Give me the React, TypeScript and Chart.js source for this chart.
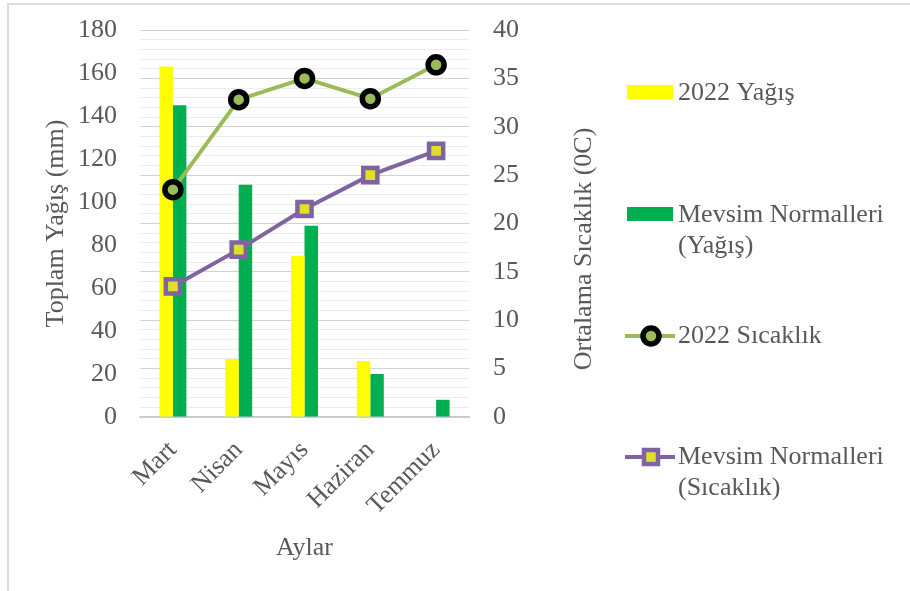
import React, { useEffect, useRef } from "react";
import { Chart, registerables } from "chart.js";

Chart.register(...registerables);

const months = ["Mart", "Nisan", "Mayıs", "Haziran", "Temmuz"];
const rain2022 = [163, 27, 75, 26, 0];
const rainNormal = [145, 108, 89, 20, 8];
const temp2022 = [23.5, 32.8, 35.0, 32.9, 36.4];
const tempNormal = [13.5, 17.3, 21.5, 25.0, 27.5];

const leftTitle = "Toplam Yağış (mm)";
const rightTitle = "Ortalama Sıcaklık (0C)";
const xTitle = "Aylar";
const legendLabels = [
  ["2022 Yağış"],
  ["Mevsim Normalleri", "(Yağış)"],
  ["2022 Sıcaklık"],
  ["Mevsim Normalleri", "(Sıcaklık)"],
];

const FONT = "Liberation Serif";
const TXT = "#595959";
const YELLOW = "#ffff00";
const GREEN = "#00b050";
const LGREEN = "#9bbb59";
const PURPLE = "#8064a2";
const SQFILL = "#e0e02a";
const CLEAR = "rgba(0,0,0,0)";

const overlayPlugin = {
  id: "overlay",
  afterDraw(chart: any) {
    const ctx = chart.ctx;
    ctx.save();
    ctx.font = `26px "${FONT}"`;
    ctx.fillStyle = TXT;
    // right axis title (reads bottom-to-top)
    ctx.save();
    ctx.translate(584, 249);
    ctx.rotate(-Math.PI / 2);
    ctx.textAlign = "center";
    ctx.textBaseline = "middle";
    ctx.fillText(rightTitle, 0, 0);
    ctx.restore();

    // legend
    ctx.textAlign = "left";
    ctx.textBaseline = "middle";
    const tx = 678;
    ctx.fillStyle = YELLOW;
    ctx.fillRect(627, 85, 46, 14);
    ctx.fillStyle = TXT;
    ctx.fillText(legendLabels[0][0], tx, 93);

    ctx.fillStyle = GREEN;
    ctx.fillRect(627, 207, 46, 14);
    ctx.fillStyle = TXT;
    ctx.fillText(legendLabels[1][0], tx, 215);
    ctx.fillText(legendLabels[1][1], tx, 246);

    ctx.strokeStyle = LGREEN;
    ctx.lineWidth = 4;
    ctx.beginPath();
    ctx.moveTo(625, 336);
    ctx.lineTo(675, 336);
    ctx.stroke();
    ctx.beginPath();
    ctx.arc(651, 336, 8, 0, Math.PI * 2);
    ctx.fillStyle = LGREEN;
    ctx.fill();
    ctx.lineWidth = 5.5;
    ctx.strokeStyle = "#000";
    ctx.stroke();
    ctx.fillStyle = TXT;
    ctx.fillText(legendLabels[2][0], tx, 336);

    ctx.strokeStyle = PURPLE;
    ctx.lineWidth = 4;
    ctx.beginPath();
    ctx.moveTo(625, 457);
    ctx.lineTo(675, 457);
    ctx.stroke();
    ctx.fillStyle = SQFILL;
    ctx.fillRect(644, 450, 14, 14);
    ctx.lineWidth = 4.5;
    ctx.strokeRect(644, 450, 14, 14);
    ctx.fillStyle = TXT;
    ctx.fillText(legendLabels[3][0], tx, 457);
    ctx.fillText(legendLabels[3][1], tx, 488);
    ctx.restore();
  },
};

export default function App() {
  const ref = useRef<HTMLCanvasElement | null>(null);
  useEffect(() => {
    if (!ref.current) return;
    const font = { family: FONT, size: 26 };
    const chart = new Chart(ref.current, {
      type: "bar",
      data: {
        labels: months,
        datasets: [
          {
            type: "line",
            label: legendLabels[2].join(" "),
            data: temp2022,
            yAxisID: "y1",
            borderColor: LGREEN,
            borderWidth: 4,
            pointRadius: 8,
            pointBorderWidth: 5.5,
            pointBorderColor: "#000",
            pointBackgroundColor: LGREEN,
            order: 1,
          } as any,
          {
            type: "line",
            label: legendLabels[3].join(" "),
            data: tempNormal,
            yAxisID: "y1",
            borderColor: PURPLE,
            borderWidth: 4,
            pointStyle: "rect",
            pointRadius: 10,
            pointBorderWidth: 4.5,
            pointBorderColor: PURPLE,
            pointBackgroundColor: SQFILL,
            order: 2,
          } as any,
          {
            type: "bar",
            label: legendLabels[0].join(" "),
            data: rain2022,
            yAxisID: "y",
            backgroundColor: YELLOW,
            categoryPercentage: 0.41,
            barPercentage: 1,
            order: 3,
          },
          {
            type: "bar",
            label: legendLabels[1].join(" "),
            data: rainNormal,
            yAxisID: "y",
            backgroundColor: GREEN,
            categoryPercentage: 0.41,
            barPercentage: 1,
            order: 3,
          },
        ],
      },
      options: {
        responsive: false,
        animation: false,
        layout: { padding: { left: 37, top: 30, right: 300, bottom: 23 } },
        plugins: { legend: { display: false }, tooltip: { enabled: false } },
        scales: {
          x: {
            grid: { display: false },
            border: { color: "#c8c8c8", width: 1.5 },
            ticks: {
              color: TXT,
              font,
              maxRotation: 45,
              minRotation: 45,
              padding: 10,
              autoSkip: false,
            },
            title: { display: true, text: xTitle, color: TXT, font },
            afterFit(scale: any) {
              scale.height = 151;
            },
          },
          y: {
            position: "left",
            min: 0,
            max: 180,
            grid: {
              display: true,
              drawOnChartArea: false,
              drawTicks: true,
              tickLength: 20,
              tickColor: CLEAR,
              color: CLEAR,
            },
            border: { display: false },
            ticks: { stepSize: 20, color: TXT, font, padding: 3 },
            title: { display: true, text: leftTitle, color: TXT, font },
            afterFit(scale: any) {
              scale.width = 103;
            },
          },
          y1: {
            position: "right",
            min: 0,
            max: 40,
            border: { display: false },
            grid: {
              drawTicks: true,
              tickLength: 21,
              tickColor: CLEAR,
              color: (c: any) =>
                c.tick && c.tick.value % 5 === 0 ? "#d2d2d2" : "#ececec",
              lineWidth: 1,
            },
            ticks: {
              stepSize: 1,
              autoSkip: false,
              color: TXT,
              font,
              padding: 3,
              callback: (v: any) => (Number(v) % 5 === 0 ? String(v) : ""),
            },
            afterFit(scale: any) {
              scale.width = 141;
            },
          },
        },
      },
      plugins: [overlayPlugin],
    });
    return () => chart.destroy();
  }, []);

  return (
    <div style={{ position: "absolute", left: 0, top: 0, width: 910, height: 591, background: "#fff" }}>
      <div
        style={{
          position: "absolute",
          left: 7,
          top: 3,
          width: 903,
          height: 588,
          borderLeft: "2px solid #dcdcdc",
          borderTop: "2px solid #dcdcdc",
          boxSizing: "border-box",
        }}
      />
      <canvas ref={ref} width={910} height={591} style={{ position: "absolute", left: 0, top: 0 }} />
    </div>
  );
}
